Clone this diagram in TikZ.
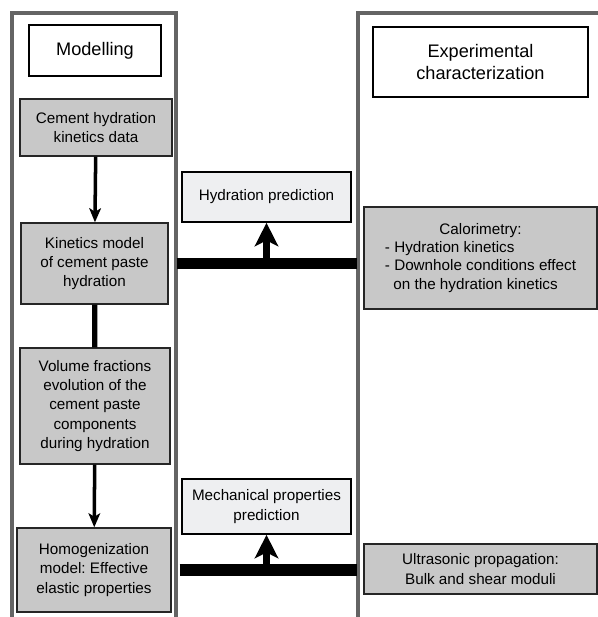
\documentclass[tikz,border=0pt]{standalone}
\usepackage{fontspec}
\setmainfont{Liberation Sans}
\usepackage{tikz}
\usetikzlibrary{arrows.meta}
\definecolor{boxgray}{RGB}{200,200,200}
\definecolor{predgray}{RGB}{238,239,241}
\definecolor{colgray}{RGB}{100,100,100}
\frenchspacing

\begin{document}
\begin{tikzpicture}[x=0.03cm,y=-0.03cm,
    boxsize/.style 2 args={minimum width=#1*0.03cm,minimum height=#2*0.03cm},
    headbox/.style={draw,line width=1.4pt,fill=white,align=center,inner sep=0pt,
      font=\fontsize{15.5}{18}\selectfont},
    stepbox/.style={draw=black!85,line width=1.2pt,fill=boxgray,align=center,inner sep=0pt,
      font=\fontsize{13}{16.5}\selectfont},
    predbox/.style={stepbox,draw=black,fill=predgray,line width=1.4pt},
    column/.style={draw=colgray,line width=2.8pt},
    flow/.style={line width=3pt,-{Stealth[width=10pt,length=12pt,inset=3pt]}},
    feed/.style={line width=6pt,-{Stealth[width=20pt,length=20pt,inset=5pt]}},
    bar/.style={line width=10pt,shorten <=0.24cm,shorten >=0.18cm}]
    \useasboundingbox (0,0) rectangle (598,617);

    % the two columns
    \draw[column] (12,617) -- (12,13) -- (176,13) -- (176,617);
    \draw[column] (358,617) -- (358,13) -- (598,13);

    \node[headbox,boxsize={132}{51}] (mod) at (95,50.5) {Modelling};
    \node[headbox,boxsize={215}{70}] (exp) at (480.5,62) {Experimental\\characterization};

    \node[stepbox,boxsize={152}{57}] (cem) at (96,127.5) {Cement hydration\\kinetics data};
    \node[stepbox,boxsize={147}{81}] (kin) at (94.5,263.5) {Kinetics model\\of cement paste\\hydration};
    \node[stepbox,boxsize={150}{116}] (vol) at (95,406) {Volume fractions\\evolution of the\\cement paste\\components\\during hydration};
    \node[stepbox,boxsize={154}{84}] (hom) at (94,570) {Homogenization\\model: Effective\\elastic properties};

    \node[predbox,boxsize={169}{50}] (hyd) at (266.5,197) {Hydration prediction};
    \node[predbox,boxsize={169}{55}] (mech) at (266.5,506.5) {Mechanical properties\\prediction};

    \node[stepbox,boxsize={233}{102},font=\fontsize{13}{15.6}\selectfont] (cal) at (480.5,258)
      {\begin{tabular}{@{}l@{}}\multicolumn{1}{@{}c@{}}{Calorimetry:}\\
       - Hydration kinetics\\- Downhole conditions effect\\\ \ on the hydration kinetics\end{tabular}};
    \node[stepbox,boxsize={233}{50}] (ult) at (480.5,569) {Ultrasonic propagation:\\Bulk and shear moduli};

    \draw[flow] (cem) to (kin);
    \draw[line width=4.5pt] (kin) to (vol);
    \draw[flow] (vol) to (hom);

    \draw[bar] (kin.east) -- (kin.east -| cal.west);
    \draw[bar] (hom.east) -- (hom.east -| ult.west);
    \draw[feed] (hyd.south |- kin.east) to (hyd.south);
    \draw[feed] (mech.south |- hom.east) to (mech.south);
  \end{tikzpicture}
\end{document}
